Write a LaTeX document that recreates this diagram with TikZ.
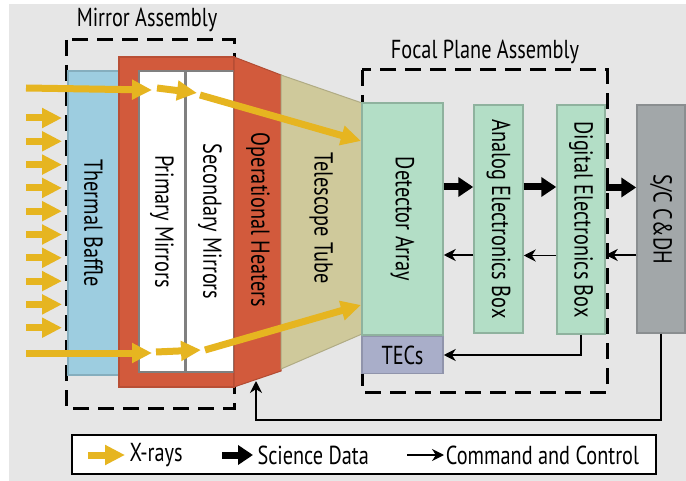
\documentclass[tikz,border=0pt]{standalone}
\usepackage{fontspec}
\setmainfont[FakeStretch=0.78]{PT Sans}
\usetikzlibrary{arrows.meta,positioning}
\definecolor{bggray}{HTML}{E6E6E6}
\definecolor{baffleblue}{HTML}{9DCDE0}
\definecolor{heatred}{HTML}{D25A3C}
\definecolor{tubetan}{HTML}{CFC99B}
\definecolor{fpagreen}{HTML}{B3DEC6}
\definecolor{tecblue}{HTML}{A9AEC9}
\definecolor{scgray}{HTML}{A2A7A9}
\definecolor{xrayyellow}{HTML}{E6B520}
\tikzset{
  unit/.style={inner sep=0pt, line width=1.5pt},
  assembly/.style={draw=black, line width=3pt, dash pattern=on 16pt off 9pt},
  xray/.style={draw=xrayyellow, line width=7pt, -{Triangle[length=20pt,width=19pt]}},
  data/.style={draw=black, line width=7pt, -{Triangle[length=15pt,width=19pt]}},
  cmd/.style={draw=black, line width=1.8pt, -{Stealth[length=12pt,width=12pt]}}
}
\begin{document}
\begin{tikzpicture}[x=1pt, y=-1pt, font=\fontsize{26}{30}\selectfont]
 \useasboundingbox (0,0) rectangle (686,481);
 \fill[white] (0,0) rectangle (686,481);
 \fill[bggray] (9,4) rectangle (686,481);

 \draw[assembly] (66,40) rectangle (234,408);
 \node (mirrortitle) at (147,20) {Mirror Assembly};
 \draw[assembly] (362,70) rectangle (607,392);
 \node (fpatitle) at (485,52) {Focal Plane Assembly};

 \node[unit, fill=baffleblue, draw=baffleblue!85!black, minimum width=51, minimum height=304] (baffle) at (93.5,223) {\rotatebox{-90}{Thermal Baffle}};
 \node[unit, fill=heatred, draw=heatred!88!black, minimum width=115, minimum height=330] (frame) at (176.5,222) {};
 \node[unit, fill=white, draw=gray, minimum width=46, minimum height=301] (primary) at (162,221.5) {\rotatebox{-90}{Primary Mirrors}};
 \node[unit, fill=white, draw=gray, minimum width=47, minimum height=301] (secondary) [right=0pt of primary] {\rotatebox{-90}{Secondary Mirrors}};

 \filldraw[fill=heatred, draw=heatred!85!black, line width=1pt] (234,57) -- (281,75) -- (281,371) -- (234,387) -- cycle;
 \node (heaterlabel) at (258,220) {\rotatebox{-90}{Operational Heaters}};
 \filldraw[fill=tubetan, draw=tubetan!85!black, line width=1pt] (281,75) -- (362,103) -- (362,334) -- (281,369) -- cycle;
 \node (tubelabel) at (321,218) {\rotatebox{-90}{Telescope Tube}};

 \node[unit, fill=fpagreen, draw=fpagreen!80!black, minimum width=81, minimum height=232] (detector) at (402.5,219) {\rotatebox{-90}{Detector Array}};
 \node[unit, fill=tecblue, draw=tecblue!85!black, minimum width=81, minimum height=37] (tecs) [below=0pt of detector] {TECs};
 \node[unit, fill=fpagreen, draw=fpagreen!80!black, minimum width=49, minimum height=228] (analog) at (498.5,219) {\rotatebox{-90}{Analog Electronics Box}};
 \node[unit, fill=fpagreen, draw=fpagreen!80!black, minimum width=48, minimum height=229] (digital) at (581,219.5) {\rotatebox{-90}{Digital Electronics Box}};
 \node[unit, fill=scgray, draw=scgray!85!black, minimum width=48, minimum height=228] (sc) at (661,219) {\rotatebox{-90}{S/C C\&DH}};

 \foreach \i in {0,...,9}
  \draw[xray] (26,{118+23.3*\i}) -- ++(36,0);

 \coordinate (topa) at (26,88);
 \coordinate (topb) at (152,90);
 \coordinate (topc) at (157,88);
 \coordinate (topd) at (197,93);
 \coordinate (tope) at (200,95);
 \coordinate (topf) at (361,141);
 \coordinate (bota) at (26,353);
 \coordinate (botb) at (152,353);
 \coordinate (botc) at (156,352);
 \coordinate (botd) at (201,350);
 \coordinate (bote) at (205,350);
 \coordinate (botf) at (361,305);
 \draw[xray] (topa) -- (topb);
 \draw[xray] (topc) -- (topd);
 \draw[xray] (tope) -- (topf);
 \draw[xray] (bota) -- (botb);
 \draw[xray] (botc) -- (botd);
 \draw[xray] (bote) -- (botf);

 \draw[data] ([yshift=32pt]detector.east) -- ([yshift=32pt]detector.east -| analog.west);
 \draw[data] ([yshift=32pt]analog.east) -- ([yshift=32pt]analog.east -| digital.west);
 \draw[data] ([yshift=32pt]digital.east) -- ([yshift=32pt]digital.east -| sc.west);

 \draw[cmd] ([yshift=-36pt]sc.west) -- ([yshift=-36pt]sc.west -| digital.east);
 \draw[cmd] ([yshift=-36pt]digital.west) -- ([yshift=-36pt]digital.west -| analog.east);
 \draw[cmd] ([yshift=-36pt]analog.west) -- ([yshift=-36pt]analog.west -| detector.east);
 \draw[cmd] (digital.south) |- (tecs.east);
 \coordinate (heaterfoot) at (256,381);
 \draw[cmd] (sc.south) -- ++(0,86) -| (heaterfoot);

 \node[draw=black, fill=white, line width=2pt, minimum width=584, minimum height=39, inner sep=0pt] (legend) at (364,454.5) {};
 \coordinate (legxray) at (88,455);
 \coordinate (legdata) at (222,455);
 \coordinate (legcmd) at (407,455);
 \draw[xray] (legxray) -- ++(37,0) node[right, inner sep=1pt, text=black] (xraytext) {X-rays};
 \draw[data] (legdata) -- ++(31,0) node[right, inner sep=1pt] (datatext) {Science Data};
 \draw[cmd] (legcmd) -- ++(37,0) node[right, inner sep=1pt] (cmdtext) {Command and Control};
\end{tikzpicture}
\end{document}
